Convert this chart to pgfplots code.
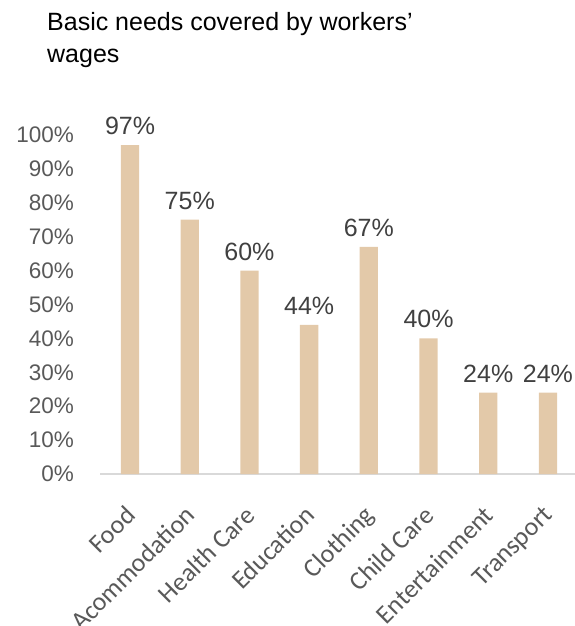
\documentclass[border=0pt]{standalone}
\usepackage{fontspec}
\setmainfont{Liberation Sans}
\newfontfamily\carlito{Carlito}
\usepackage{pgfplots}
\pgfplotsset{compat=1.18}
\definecolor{barc}{HTML}{E3C9A9}
\definecolor{tickc}{HTML}{595959}
\definecolor{labc}{HTML}{404040}
\definecolor{axlc}{HTML}{D9D9D9}
\begin{document}
\begin{tikzpicture}[x=1pt,y=1pt]
\path[use as bounding box] (-100.2,-152) rectangle (474.8,474);
\begin{axis}[at={(0,0)}, anchor=south west, scale only axis,
  width=474.6pt, height=339pt,
  xmin=-0.5, xmax=7.45, ymin=0, ymax=100,
  axis lines*=left,
  x axis line style={draw=axlc, line width=1.5pt},
  y axis line style={draw=none},
  xtick style={draw=none}, ytick style={draw=none},
  xtick={0,1,2,3,4,5,6,7},
  xticklabels={Food,Acommodation,Health Care,Education,Clothing,Child Care,Entertainment,Transport},
  xticklabel style={xshift=-6pt, yshift=-30pt, rotate=45, anchor=north east, inner sep=0pt,
    font=\carlito\fontsize{26}{26}\selectfont, text=tickc},
  ytick={0,10,20,30,40,50,60,70,80,90,100},
  yticklabels={0\%,10\%,20\%,30\%,40\%,50\%,60\%,70\%,80\%,90\%,100\%},
  yticklabel style={anchor=east, inner sep=0pt, xshift=-26pt,
    font=\fontsize{22.5}{22.5}\selectfont, text=tickc},
  nodes near coords={\pgfmathprintnumber[assume math mode=true]{\pgfplotspointmeta}\%},
  nodes near coords style={font=\fontsize{25}{25}\selectfont, text=labc, anchor=south, inner sep=0pt, yshift=10pt},
  point meta=y,
  clip=false,
]
\addplot[ybar, bar width=18.3pt, fill=barc, draw=none] coordinates {(0,97)(1,75)(2,60)(3,44)(4,67)(5,40)(6,24)(7,24)};
\end{axis}
\node[anchor=base west, inner sep=0pt, font=\fontsize{25}{25}\selectfont] at (-53.2,443) {Basic needs covered by workers’};
\node[anchor=base west, inner sep=0pt, font=\fontsize{25}{25}\selectfont] at (-53.2,411) {wages};
\end{tikzpicture}
\end{document}
